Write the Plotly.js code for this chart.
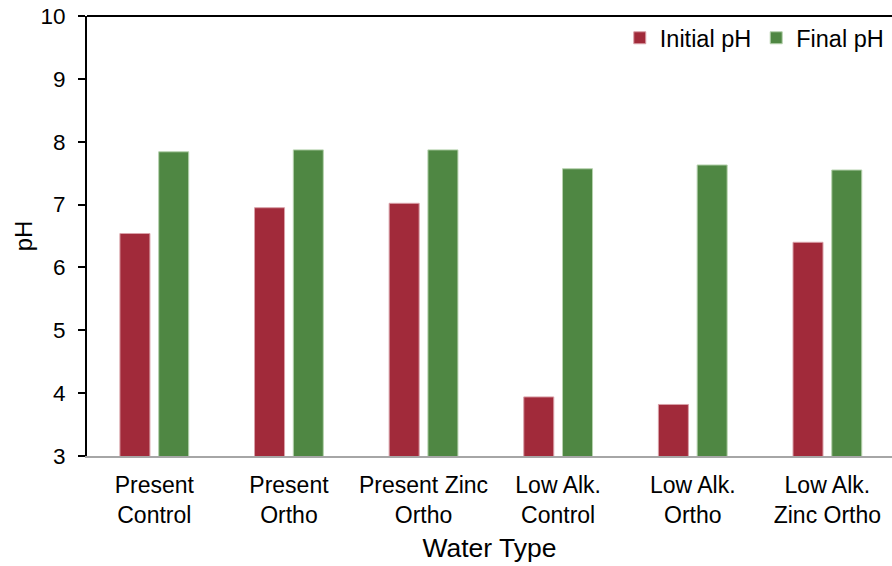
<!DOCTYPE html>
<html>
<head>
<meta charset="utf-8">
<script src="https://cdn.plot.ly/plotly-3.0.1.min.js"></script>
<style>
  html, body { margin: 0; padding: 0; background: #ffffff; }
  #chart { width: 892px; height: 566px; }
</style>
</head>
<body>
<div id="chart"></div>
<script>
// Water types (two-line tick labels)
const categories = [
  "Present<br>Control",
  "Present<br>Ortho",
  "Present Zinc<br>Ortho",
  "Low Alk.<br>Control",
  "Low Alk.<br>Ortho",
  "Low Alk.<br>Zinc Ortho"
];

// pH measured at the start and at the end
const initialPH = [6.54, 6.95, 7.02, 3.94, 3.82, 6.40];
const finalPH   = [7.84, 7.87, 7.87, 7.57, 7.63, 7.55];

const yTicks = [3, 4, 5, 6, 7, 8, 9, 10];

const FONT = "Arial, 'Liberation Sans', sans-serif";

const traces = [
  {
    type: "bar",
    name: "Initial pH",
    x: categories,
    y: initialPH,
    marker: { color: "#A12A3A", line: { color: "#d9a0a8", width: 1 } }
  },
  {
    type: "bar",
    name: "Final pH",
    x: categories,
    y: finalPH,
    marker: { color: "#4F8743", line: { color: "#b6d2ae", width: 1 } }
  }
];

const layout = {
  width: 892,
  height: 566,
  margin: { l: 87, r: 0, t: 16, b: 110 },
  paper_bgcolor: "#ffffff",
  plot_bgcolor: "#ffffff",
  font: { family: FONT, color: "#000000", size: 23 },
  barmode: "group",
  bargap: 0.424,
  bargroupgap: 0.226,
  showlegend: true,
  legend: {
    orientation: "h",
    x: 0.996,
    xanchor: "right",
    y: 1.0,
    yanchor: "top",
    font: { family: FONT, size: 23.5, color: "#000000" },
    bgcolor: "rgba(0,0,0,0)",
    itemwidth: 30,
    traceorder: "normal"
  },
  xaxis: {
    type: "category",
    range: [-0.5, 5.48],
    showline: true,
    linecolor: "#a6a6a6",
    linewidth: 2,
    ticks: "",
    ticklabelstandoff: 7,
    showgrid: false,
    zeroline: false,
    tickfont: { family: FONT, size: 23, color: "#000000" },
    title: { text: "Water Type", font: { family: FONT, size: 26.5, color: "#000000" }, standoff: 12 }
  },
  yaxis: {
    range: [3, 10],
    tickvals: yTicks,
    ticktext: yTicks.map(String),
    showline: true,
    linecolor: "#000000",
    linewidth: 2,
    ticks: "outside",
    ticklen: 7,
    tickwidth: 2,
    tickcolor: "#000000",
    ticklabelstandoff: 8,
    showgrid: false,
    zeroline: false,
    tickfont: { family: FONT, size: 22.5, color: "#000000" },
    title: { text: "pH", font: { family: FONT, size: 24, color: "#000000" }, standoff: 1 }
  },
  shapes: [
    {
      type: "line",
      xref: "paper", yref: "paper",
      x0: 0, x1: 1, y0: 1, y1: 1,
      line: { color: "#000000", width: 2 }
    }
  ]
};

Plotly.newPlot("chart", traces, layout, { displayModeBar: false, staticPlot: true });
</script>
</body>
</html>
